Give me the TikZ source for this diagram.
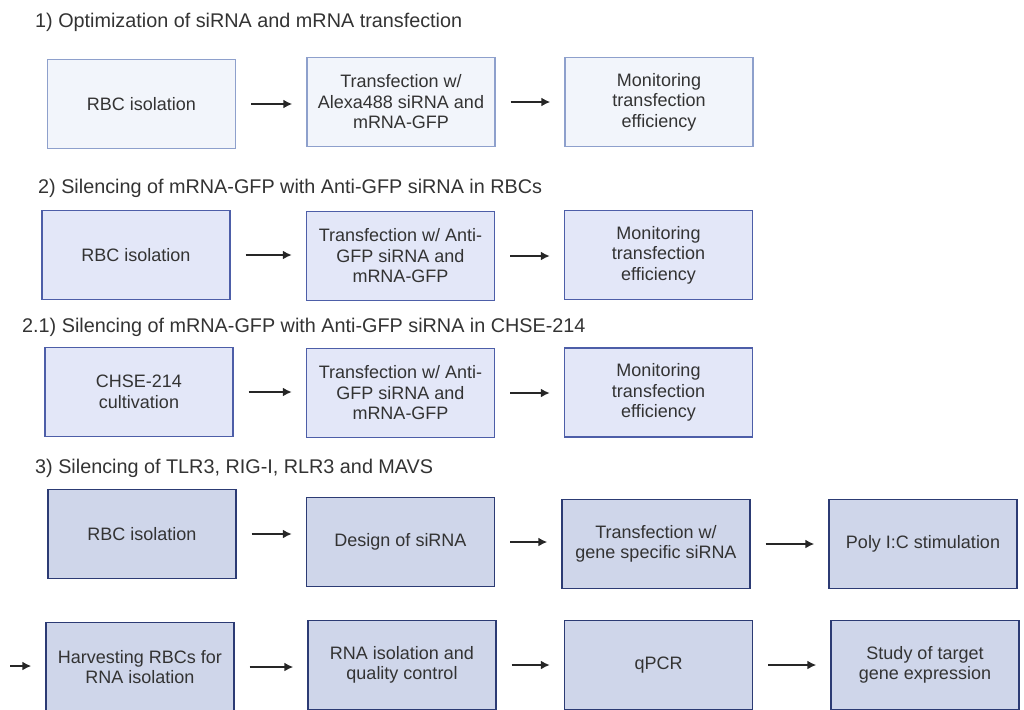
\documentclass[tikz,border=0pt]{standalone}
\usepackage{fontspec}
\setmainfont{Liberation Sans}
\usetikzlibrary{arrows.meta}

\definecolor{txtgray}{HTML}{333333}
\definecolor{fillA}{HTML}{F2F5FB}
\definecolor{edgeA}{HTML}{8EA0CC}
\definecolor{fillB}{HTML}{E3E7F8}
\definecolor{edgeB}{HTML}{4D5EA8}
\definecolor{fillC}{HTML}{CFD6EA}
\definecolor{edgeC}{HTML}{2C3B74}

\begin{document}
\begin{tikzpicture}[x=1pt, y=-1pt,
  box/.style={line width=1.4pt, minimum width=188pt, minimum height=89pt,
    inner sep=2pt, align=center, text=txtgray,
    font=\fontsize{18}{20.5}\selectfont},
  boxa/.style={box, draw=edgeA, fill=fillA},
  boxb/.style={box, draw=edgeB, fill=fillB},
  boxc/.style={box, draw=edgeC, fill=fillC},
  title/.style={anchor=west, inner sep=0pt, text=txtgray,
    font=\fontsize{19.8}{22}\selectfont},
  flow/.style={-{Latex[length=9pt,width=9pt]}, line width=2pt,
    draw=black!85, shorten <=15pt, shorten >=14pt}]
  \useasboundingbox (0,0) rectangle (1024,709);
  \clip (0,0) rectangle (1024,709);

  % 1) optimization
  \node[title] (t1) at (35,22) {1) Optimization of siRNA and mRNA transfection};
  \node[boxa] (a1) at (141.5,104) {RBC isolation};
  \node[boxa] (a2) at (401,102) {Transfection w/\\Alexa488 siRNA and\\mRNA-GFP};
  \node[boxa] (a3) at (659,102) {Monitoring\\transfection\\efficiency};
  \draw[flow] (a1.east) -- (a1.east -| a2.west);
  \draw[flow] (a2.east) -- (a2.east -| a3.west);

  % 2) silencing in RBCs
  \node[title] (t2) at (38,188) {2) Silencing of mRNA-GFP with Anti-GFP siRNA in RBCs};
  \node[boxb] (b1) at (136,255) {RBC isolation};
  \node[boxb] (b2) at (400.5,256) {Transfection w/ Anti-\\GFP siRNA and\\mRNA-GFP};
  \node[boxb] (b3) at (658.5,255) {Monitoring\\transfection\\efficiency};
  \draw[flow] (b1.east) -- (b1.east -| b2.west);
  \draw[flow] (b2.east) -- (b2.east -| b3.west);

  % 2.1) silencing in CHSE-214
  \node[title] (t21) at (22,327) {2.1) Silencing of mRNA-GFP with Anti-GFP siRNA in CHSE-214};
  \node[boxb] (c1) at (139,392) {CHSE-214\\cultivation};
  \node[boxb] (c2) at (400.5,393) {Transfection w/ Anti-\\GFP siRNA and\\mRNA-GFP};
  \node[boxb] (c3) at (658.5,392.5) {Monitoring\\transfection\\efficiency};
  \draw[flow] (c1.east) -- (c1.east -| c2.west);
  \draw[flow] (c2.east) -- (c2.east -| c3.west);

  % 3) silencing of TLR3, RIG-I, RLR3, MAVS
  \node[title] (t3) at (35,468) {3) Silencing of TLR3, RIG-I, RLR3 and MAVS};
  \node[boxc] (d1) at (142,534) {RBC isolation};
  \node[boxc] (d2) at (400.5,542) {Design of siRNA};
  \node[boxc] (d3) at (656,544) {Transfection w/\\gene specific siRNA};
  \node[boxc] (d4) at (923,544) {Poly I:C stimulation};
  \draw[flow] (d1.east) -- (d1.east -| d2.west);
  \draw[flow] (d2.east) -- (d2.east -| d3.west);
  \draw[flow] (d3.east) -- (d3.east -| d4.west);

  \coordinate (e0) at (-5,666);
  \node[boxc] (e1) at (140,667) {Harvesting RBCs for\\RNA isolation};
  \node[boxc] (e2) at (402,665) {RNA isolation and\\quality control};
  \node[boxc] (e3) at (658.5,665) {qPCR};
  \node[boxc] (e4) at (925,665) {Study of target\\gene expression};
  \draw[flow] (e0) -- (e0 -| e1.west);
  \draw[flow] (e1.east) -- (e1.east -| e2.west);
  \draw[flow] (e2.east) -- (e2.east -| e3.west);
  \draw[flow] (e3.east) -- (e3.east -| e4.west);
\end{tikzpicture}
\end{document}
